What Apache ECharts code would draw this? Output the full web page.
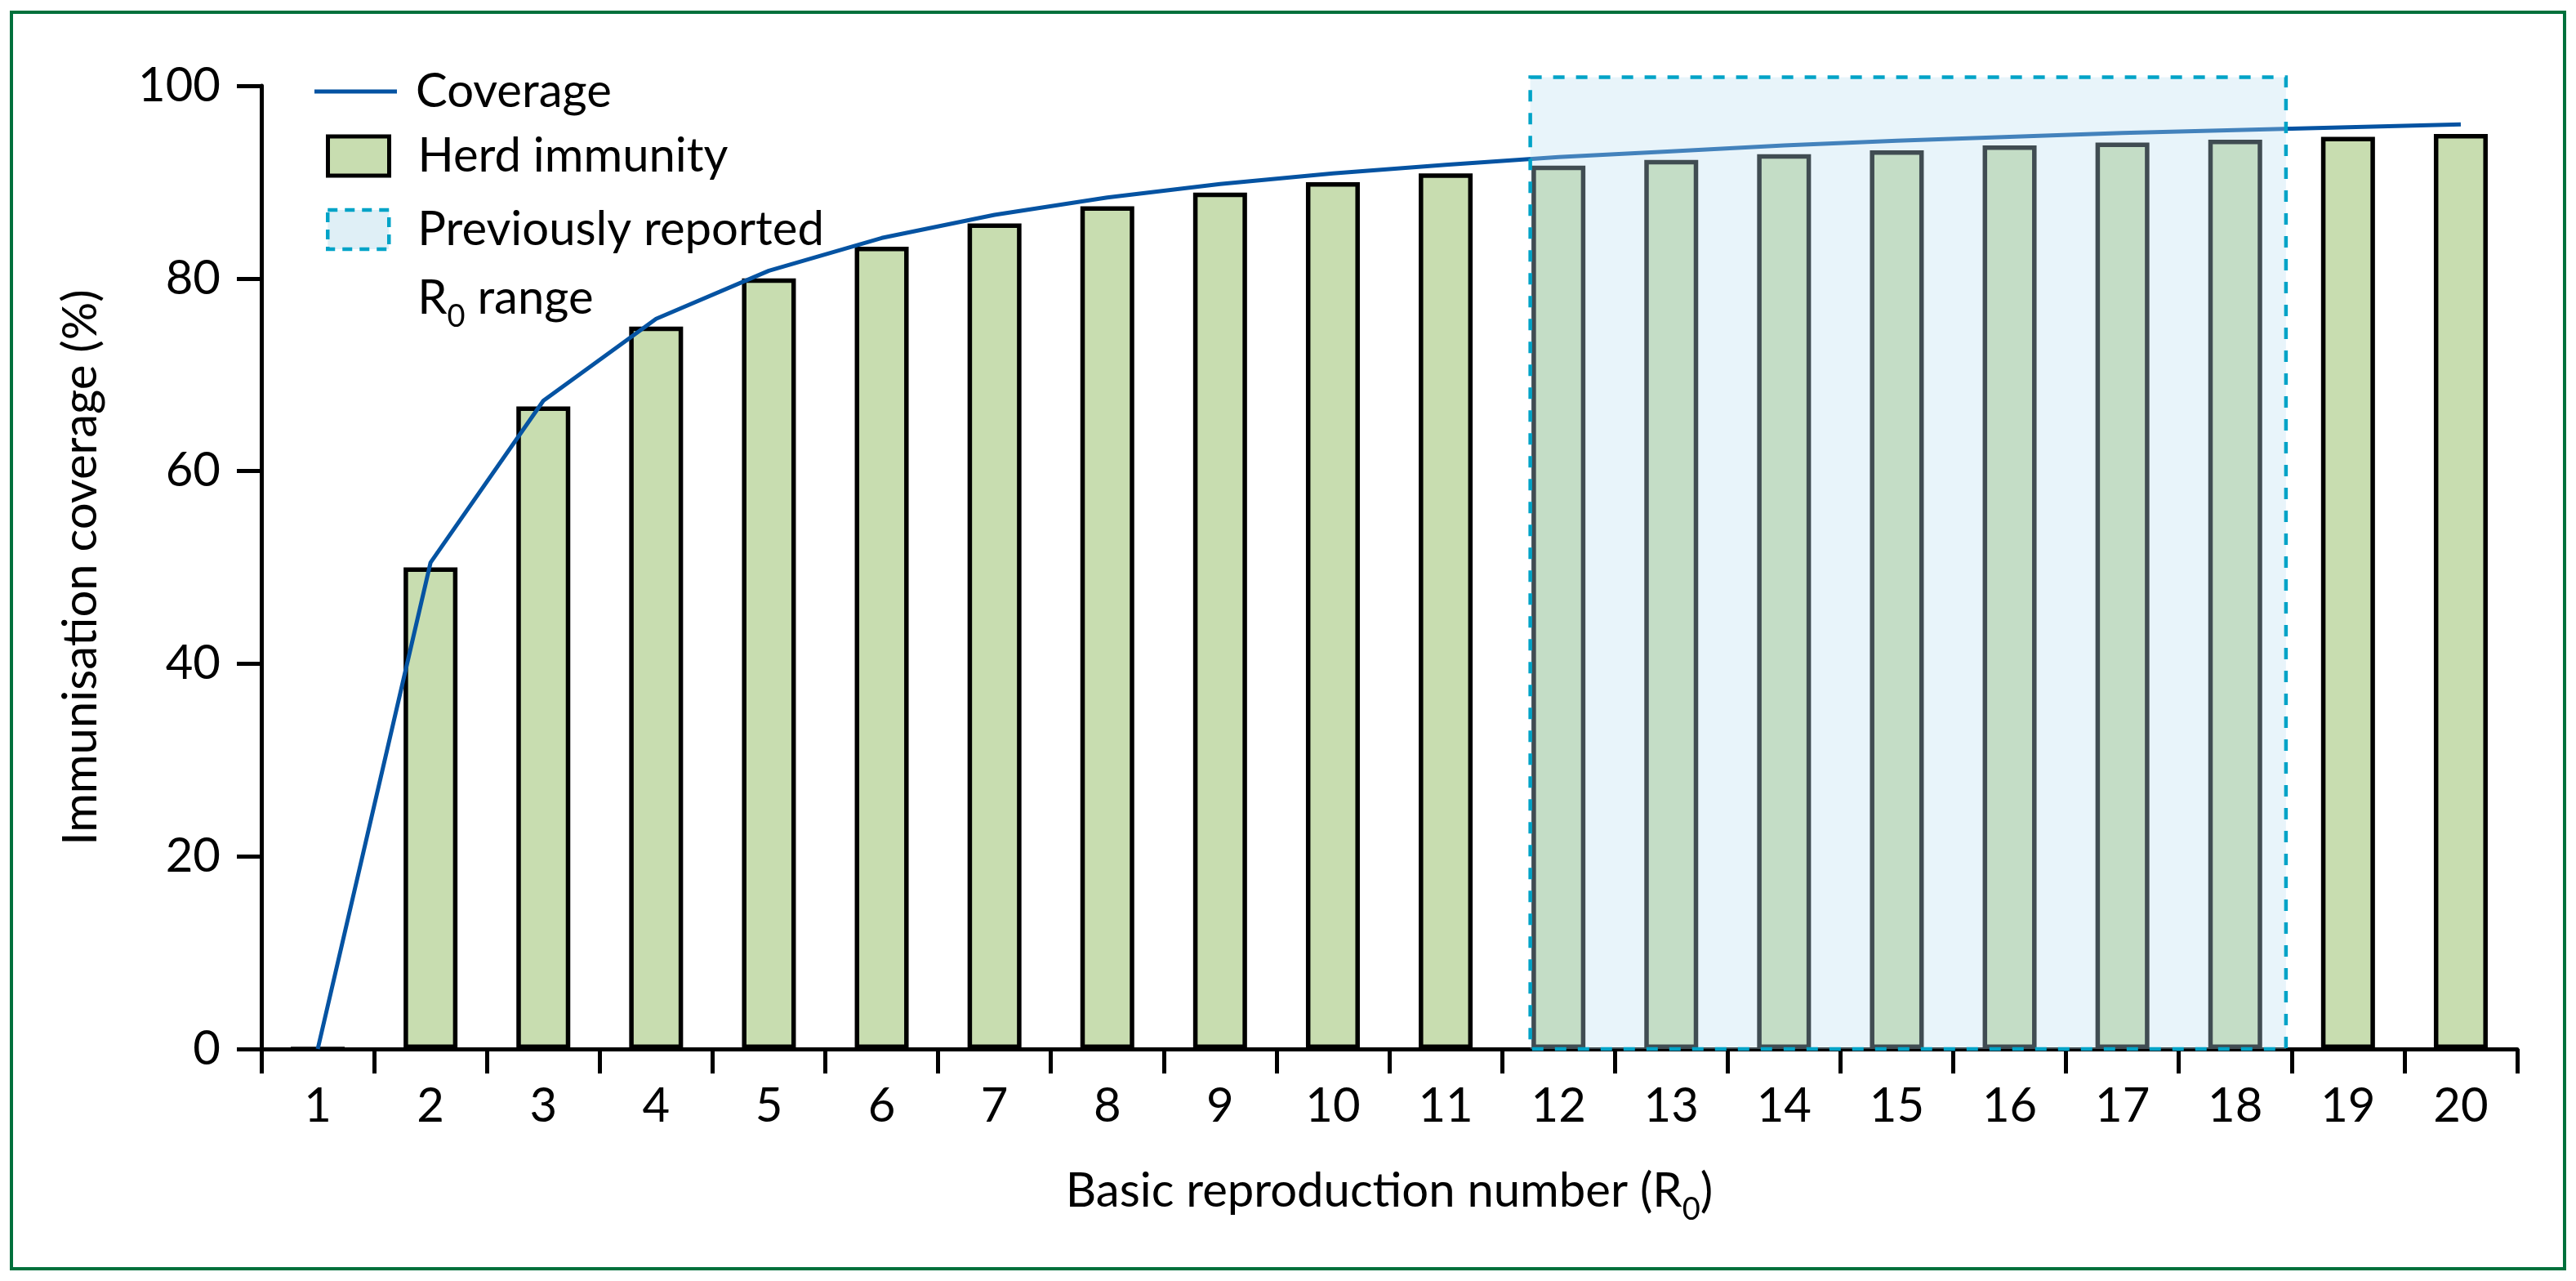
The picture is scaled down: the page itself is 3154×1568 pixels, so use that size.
<!DOCTYPE html>
<html>
<head>
<meta charset="utf-8">
<script src="https://cdn.jsdelivr.net/npm/echarts@6/dist/echarts.min.js"></script>
<style>
  html, body { margin: 0; padding: 0; background: #fff; }
  #chart { width: 3154px; height: 1568px; }
</style>
</head>
<body>
<div id="chart"></div>
<script>
// ---- data ----
const categories = ['1','2','3','4','5','6','7','8','9','10','11','12','13','14','15','16','17','18','19','20'];
const herdImmunity = [0, 50, 66.7, 75, 80, 83.3, 85.7, 87.5, 88.9, 90, 90.9, 91.7, 92.3, 92.9, 93.3, 93.8, 94.1, 94.4, 94.7, 95];
const coverage = [0, 50.5, 67.3, 75.8, 80.8, 84.2, 86.6, 88.4, 89.8, 90.9, 91.8, 92.6, 93.2, 93.8, 94.3, 94.7, 95.1, 95.4, 95.7, 96.0];
// previously reported R0 range as drawn (start, end on R0 scale, top in %)
const reportedRange = [11.75, 18.45];
const reportedTop = 100.9;
const yMin = 0, yMax = 100, yInterval = 20;

const FONT = 'Lato';
const LINE_COLOR = '#0553a2';
const chart = echarts.init(document.getElementById('chart'), null, { renderer: 'canvas' });

const richStyles = {
  a: { fontFamily: FONT, fontSize: 58, lineHeight: 84, color: '#000' },
  s: { fontFamily: FONT, fontSize: 38, lineHeight: 38, verticalAlign: 'bottom', color: '#000' }
};

const option = {
  animation: false,
  backgroundColor: '#fff',
  grid: { left: 320, right: 72, top: 105, bottom: 284, containLabel: false },
  graphic: [{
    type: 'rect',
    shape: { x: 14, y: 15, width: 3126, height: 1538 },
    style: { fill: 'none', stroke: '#00703c', lineWidth: 4 },
    silent: true, z: -1
  }],
  legend: [
    {
      data: [{ name: 'Coverage', icon: 'rect', itemStyle: { color: LINE_COLOR, borderWidth: 0 } }],
      left: 385, top: 82, padding: 0, orient: 'vertical', selectedMode: false,
      itemWidth: 101, itemHeight: 5,
      textStyle: { fontFamily: FONT, fontSize: 58, lineHeight: 60, color: '#000', padding: [0, 0, 0, 18] }
    },
    {
      data: [{ name: 'Herd immunity', icon: 'rect',
               itemStyle: { color: '#c8ddb0', borderColor: '#000', borderWidth: 5 } }],
      left: 399, top: 161, padding: 0, orient: 'vertical', selectedMode: false,
      itemWidth: 75, itemHeight: 48,
      textStyle: { fontFamily: FONT, fontSize: 58, lineHeight: 60, color: '#000', padding: [0, 0, 0, 30] }
    },
    {
      data: [{ name: 'Previously reported R0 range', icon: 'rect',
               itemStyle: { color: '#dfeff6', borderColor: '#00a3c7', borderWidth: 4.5, borderType: [12, 9] } }],
      left: 399, top: 155, padding: 0, orient: 'vertical', selectedMode: false,
      itemWidth: 75, itemHeight: 48,
      formatter: function () { return '{a|Previously reported}\n{a|R}{s|0}{a| range}'; },
      textStyle: { fontFamily: FONT, fontSize: 58, lineHeight: 84, color: '#000',
                   padding: [84, 0, 0, 30], rich: richStyles }
    }
  ],
  xAxis: [
    {
      type: 'category',
      data: categories,
      boundaryGap: true,
      position: 'bottom',
      name: '{a|Basic reproduction number (}{a|R}{s|0}{a|)}',
      nameLocation: 'middle',
      nameGap: 132,
      nameTextStyle: { fontFamily: FONT, fontSize: 58, lineHeight: 84, color: '#000', rich: richStyles },
      axisLine: { show: true, lineStyle: { color: '#000', width: 5 } },
      axisTick: { show: true, alignWithLabel: false, length: 30, inside: false, lineStyle: { color: '#000', width: 5 } },
      axisLabel: { fontFamily: FONT, fontSize: 58, color: '#000', margin: 41, interval: 0 },
      splitLine: { show: false }
    },
    {
      type: 'value',
      min: 0.5, max: 20.5,
      show: false,
      position: 'top'
    }
  ],
  yAxis: {
    type: 'value',
    min: yMin, max: yMax, interval: yInterval,
    name: 'Immunisation coverage (%)',
    nameLocation: 'middle',
    nameGap: 189,
    nameTextStyle: { fontFamily: FONT, fontSize: 58, lineHeight: 64, color: '#000' },
    axisLine: { show: true, lineStyle: { color: '#000', width: 5 } },
    axisTick: { show: true, length: 30, inside: false, lineStyle: { color: '#000', width: 5 } },
    axisLabel: { fontFamily: FONT, fontSize: 58, color: '#000', margin: 50 },
    splitLine: { show: false }
  },
  series: [
    {
      type: 'bar',
      name: 'Herd immunity',
      data: herdImmunity,
      barWidth: 66,
      itemStyle: { color: '#c8ddb0', borderColor: '#000', borderWidth: 5.5 },
      z: 2
    },
    {
      type: 'line',
      name: 'Coverage',
      data: coverage,
      symbol: 'none',
      lineStyle: { color: LINE_COLOR, width: 5 },
      itemStyle: { color: LINE_COLOR },
      z: 3
    },
    {
      type: 'custom',
      name: 'Previously reported R0 range',
      xAxisIndex: 1,
      yAxisIndex: 0,
      clip: false,
      silent: true,
      z: 10,
      encode: { x: [0, 1], y: 2 },
      itemStyle: { color: '#dfeff6', borderColor: '#00a3c7', borderWidth: 4, borderType: [12, 9] },
      data: [[reportedRange[0], reportedRange[1], reportedTop]],
      renderItem: function (params, api) {
        const p0 = api.coord([api.value(0), api.value(2)]);
        const p1 = api.coord([api.value(1), 0]);
        return {
          type: 'rect',
          shape: { x: p0[0], y: p0[1], width: p1[0] - p0[0], height: p1[1] - p0[1] },
          style: { fill: 'rgba(187,223,240,0.34)', stroke: '#00a3c7', lineWidth: 4.5, lineDash: [14, 14] }
        };
      }
    }
  ]
};
chart.setOption(option);
</script>
</body>
</html>
